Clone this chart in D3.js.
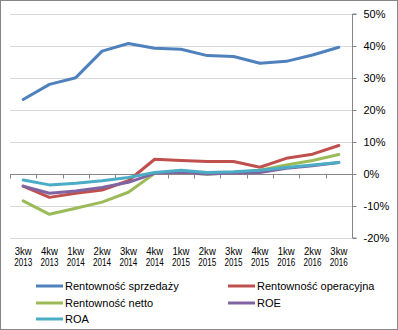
<!DOCTYPE html>
<html><head><meta charset="utf-8">
<script src="https://cdn.jsdelivr.net/npm/d3@7"></script>
<style>body{margin:0;background:#fff}svg{display:block;font-family:"Liberation Sans",Arial,sans-serif}</style>
</head><body><svg id="c" width="398" height="330"></svg>
<script>
const quarters = ["3kw","4kw","1kw","2kw","3kw","4kw","1kw","2kw","3kw","4kw","1kw","2kw","3kw"];
const years = ["2013","2013","2014","2014","2014","2014","2015","2015","2015","2015","2016","2016","2016"];
const yTicks = [-20,-10,0,10,20,30,40,50];
const seriesNames = ["Rentowność sprzedaży","Rentowność operacyjna","Rentowność netto","ROE","ROA"];
const seriesColors = ["#4F81BD","#C0504D","#9BBB59","#8064A2","#4BACC6"];
const sprzedazy = [23.3,28.0,30.1,38.4,40.8,39.3,39.0,37.0,36.7,34.6,35.2,37.2,39.6];
const operacyjna = [-3.8,-7.3,-6.0,-5.0,-2.1,4.6,4.2,3.9,3.9,2.1,4.9,6.2,8.9];
const netto = [-8.4,-12.6,-10.7,-8.8,-5.7,0.2,0.5,-0.1,0.5,1.2,2.8,4.2,6.1];
const roe = [-3.8,-6.0,-5.3,-4.2,-2.6,0.2,0.5,0.0,0.3,0.5,1.8,2.6,3.6];
const roa = [-1.9,-3.4,-2.9,-2.1,-1.1,0.5,1.2,0.5,0.7,1.2,2.0,2.8,3.6];
const allSeries = [sprzedazy, operacyjna, netto, roe, roa];

const svg = d3.select("#c");
svg.append("rect").attr("x",0.5).attr("y",0.5).attr("width",397).attr("height",329)
  .attr("fill","#fff").attr("stroke","#868686");

const L = 10, R = 352, T = 14, B = 238;
const idx = d3.range(quarters.length);
const x = d3.scaleBand().domain(idx).range([L,R]).padding(0);
const y = d3.scaleLinear().domain([-20,50]).range([B,T]);

// gridlines
svg.append("g").selectAll("line").data(yTicks.filter(t=>t!==0)).join("line")
  .attr("x1",L).attr("x2",R).attr("y1",d=>Math.round(y(d))+0.5).attr("y2",d=>Math.round(y(d))+0.5)
  .attr("stroke","#D9D9D9");

// right axis
const ya = d3.axisRight(y).tickValues(yTicks).tickSize(4).tickPadding(7).tickFormat(d=>d+"%");
const gy = svg.append("g").attr("transform",`translate(${R+0.5},0)`).call(ya);
gy.selectAll("path,line").attr("stroke","#868686");
gy.select(".domain").attr("d",`M4,${y(-20)}H0V${y(50)}H4`);
gy.selectAll("text").attr("font-size",11).attr("fill","#000").attr("font-family","Liberation Sans, Arial");

// zero axis with ticks
const z = Math.round(y(0))+0.5;
svg.append("line").attr("x1",L).attr("x2",R).attr("y1",z).attr("y2",z).attr("stroke","#868686");
svg.append("g").selectAll("line").data(d3.range(quarters.length+1)).join("line")
  .attr("x1",i=>Math.round(L + i*x.bandwidth())+0.5).attr("x2",i=>Math.round(L + i*x.bandwidth())+0.5)
  .attr("y1",z).attr("y2",z+4).attr("stroke","#868686");

// category labels
const lab = svg.append("g").attr("font-size",11).attr("text-anchor","middle").attr("fill","#000");
lab.selectAll("text.q").data(idx).join("text").attr("class","q")
  .attr("x",i=>x(i)+x.bandwidth()/2).attr("y",255)
  .attr("textLength",17).attr("lengthAdjust","spacingAndGlyphs").text(i=>quarters[i]);
lab.selectAll("text.yr").data(idx).join("text").attr("class","yr")
  .attr("x",i=>x(i)+x.bandwidth()/2).attr("y",266)
  .attr("textLength",18).attr("lengthAdjust","spacingAndGlyphs").text(i=>years[i]);

// lines
const line = d3.line().x((d,i)=>x(i)+x.bandwidth()/2).y(d=>y(d));
svg.append("g").selectAll("path").data(allSeries).join("path")
  .attr("d",d=>line(d)).attr("fill","none").attr("stroke",(d,i)=>seriesColors[i])
  .attr("stroke-width",3).attr("stroke-linejoin","round").attr("stroke-linecap","round");

// legend
const legPos = [[36,286],[228,286],[36,303],[228,303],[36,319]];
const lg = svg.append("g").attr("font-size",11);
seriesNames.forEach((n,i)=>{
  const [lx,ly] = legPos[i];
  lg.append("line").attr("x1",lx).attr("x2",lx+27).attr("y1",ly).attr("y2",ly)
    .attr("stroke",seriesColors[i]).attr("stroke-width",3);
  lg.append("text").attr("x",lx+29).attr("y",ly+4).attr("fill","#000").text(n);
});
</script></body></html>
